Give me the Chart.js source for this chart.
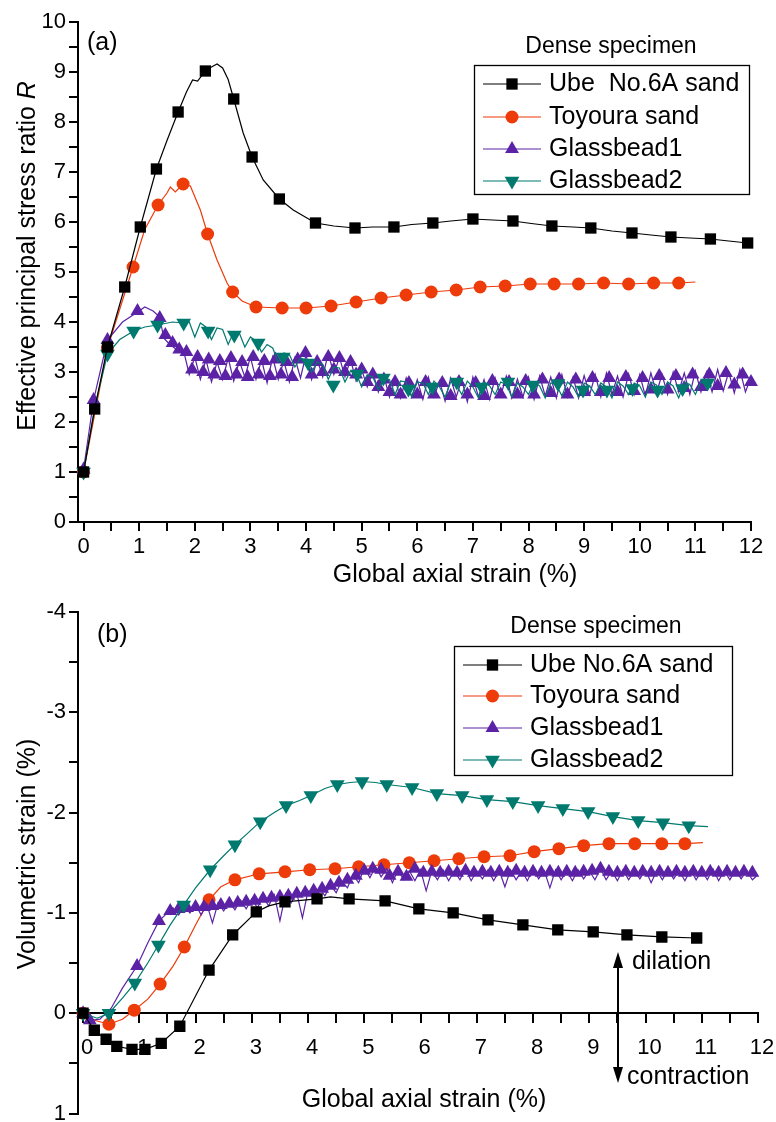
<!DOCTYPE html>
<html>
<head>
<meta charset="utf-8">
<script src="https://cdn.jsdelivr.net/npm/chart.js@4.4.1/dist/chart.umd.min.js"></script>
<style>
  html, body { margin: 0; padding: 0; background: #fff; }
  #wrap { position: relative; width: 776px; height: 1122px; }
  canvas { position: absolute; left: 0; }
  #chart-a { top: 0; width: 776px; height: 590px; }
  #chart-b { top: 590px; width: 776px; height: 532px; }
</style>
</head>
<body>
<div id="wrap">
  <canvas id="chart-a" width="776" height="590"></canvas>
  <canvas id="chart-b" width="776" height="532"></canvas>
</div>
<script>
// ---- data: [strain %, value] ----
const strainTicks = [0, 1, 2, 3, 4, 5, 6, 7, 8, 9, 10, 11, 12];
const ratioTicks = [0, 1, 2, 3, 4, 5, 6, 7, 8, 9, 10];
const volTicks = [-4, -3, -2, -1, 0, 1];

const namesA = ["Ube  No.6A sand", "Toyoura sand", "Glassbead1", "Glassbead2"];
const namesB = ["Ube No.6A sand", "Toyoura sand", "Glassbead1", "Glassbead2"];

// (a) effective principal stress ratio R
const ubeRatioLine = [[0,1.0],[0.2,2.26],[0.43,3.5],[0.74,4.7],[1.02,5.9],[1.31,7.06],[1.5,7.63],[1.7,8.2],[1.85,8.6],[1.96,8.84],[2.05,8.82],[2.19,9.02],[2.3,9.1],[2.4,9.16],[2.5,9.08],[2.6,8.85],[2.7,8.46],[2.87,7.78],[3.03,7.3],[3.23,6.84],[3.52,6.46],[3.77,6.24],[4.17,5.98],[4.5,5.92],[4.88,5.88],[5.2,5.9],[5.58,5.9],[5.9,5.95],[6.28,5.98],[6.6,6.02],[7.0,6.06],[7.35,6.04],[7.72,6.02],[8.05,5.97],[8.42,5.92],[8.8,5.9],[9.12,5.88],[9.5,5.82],[9.86,5.78],[10.2,5.74],[10.56,5.7],[10.9,5.68],[11.27,5.66],[11.6,5.62],[11.94,5.58]];
const ubeRatioMarks = [[0,1.0],[0.2,2.26],[0.43,3.5],[0.74,4.7],[1.02,5.9],[1.31,7.06],[1.7,8.2],[2.19,9.02],[2.7,8.46],[3.03,7.3],[3.52,6.46],[4.17,5.98],[4.88,5.88],[5.58,5.9],[6.28,5.98],[7.0,6.06],[7.72,6.02],[8.42,5.92],[9.12,5.88],[9.86,5.78],[10.56,5.7],[11.27,5.66],[11.94,5.58]];

const toyouraRatioLine = [[0,1.0],[0.43,3.48],[0.89,5.1],[1.1,5.85],[1.34,6.34],[1.5,6.58],[1.56,6.7],[1.65,6.6],[1.79,6.76],[1.92,6.72],[2.1,6.24],[2.23,5.76],[2.4,5.24],[2.58,4.78],[2.68,4.6],[2.85,4.42],[3.1,4.3],[3.57,4.28],[4.0,4.28],[4.45,4.32],[4.9,4.4],[5.35,4.48],[5.8,4.54],[6.25,4.6],[6.7,4.64],[7.13,4.7],[7.58,4.72],[8.03,4.76],[8.46,4.76],[8.9,4.76],[9.35,4.78],[9.8,4.76],[10.25,4.78],[10.7,4.78],[11.0,4.8]];
const toyouraRatioMarks = [[0,1.0],[0.43,3.48],[0.89,5.1],[1.34,6.34],[1.79,6.76],[2.23,5.76],[2.68,4.6],[3.1,4.3],[3.57,4.28],[4.0,4.28],[4.45,4.32],[4.9,4.4],[5.35,4.48],[5.8,4.54],[6.25,4.6],[6.7,4.64],[7.13,4.7],[7.58,4.72],[8.03,4.76],[8.46,4.76],[8.9,4.76],[9.35,4.78],[9.8,4.76],[10.25,4.78],[10.7,4.78]];

const gb1RatioLine = [[0,1.05],[0.18,2.44],[0.43,3.64],[0.7,4.0],[1.0,4.22],[1.1,4.3],[1.25,4.22],[1.37,4.1],[1.44,3.68],[1.56,3.54],[1.74,3.4],
  [1.8,3.42],[1.9,2.95],[2.0,3.3],[2.1,2.85],[2.2,3.25],[2.3,2.8],[2.4,3.2],[2.5,2.85],[2.6,3.28],[2.7,2.82],[2.8,3.22],[2.9,2.9],[3.0,3.3],[3.1,2.85],[3.2,3.25],[3.3,2.78],[3.4,3.3],[3.5,2.85],[3.6,3.22],[3.7,2.8],[3.8,3.28],[3.9,2.88],[4.0,3.35],[4.1,2.85],[4.2,3.25],[4.3,2.9],[4.4,3.38],[4.5,2.95],[4.6,3.3],[4.7,2.9],[4.8,3.25],[4.9,2.82],
  [5.0,3.05],[5.1,2.7],[5.2,3.0],[5.3,2.6],[5.4,2.92],[5.5,2.5],[5.6,2.85],[5.7,2.48],[5.8,2.88],[5.9,2.5],[6.0,2.85],[6.1,2.45],[6.2,2.9],[6.3,2.5],[6.4,2.82],[6.5,2.42],[6.6,2.88],[6.7,2.5],[6.8,2.85],[6.9,2.4],[7.0,2.9],[7.1,2.5],[7.2,2.85],[7.3,2.45],[7.4,2.88],[7.5,2.52],[7.6,2.92],[7.7,2.48],[7.8,2.86],[7.9,2.5],
  [8.0,2.9],[8.1,2.45],[8.2,2.92],[8.3,2.52],[8.4,2.9],[8.5,2.48],[8.6,2.95],[8.7,2.5],[8.8,2.9],[8.9,2.48],[9.0,2.93],[9.1,2.55],[9.2,2.95],[9.3,2.5],[9.4,2.98],[9.5,2.55],[9.6,2.92],[9.7,2.5],[9.8,2.96],[9.9,2.55],[10.0,2.95],[10.1,2.52],[10.2,2.98],[10.3,2.58],[10.4,2.95],[10.5,2.55],[10.6,3.0],[10.7,2.6],[10.8,2.98],[10.9,2.55],
  [11.0,3.02],[11.1,2.6],[11.2,3.0],[11.3,2.6],[11.4,3.05],[11.5,2.62],[11.6,3.0],[11.7,2.58],[11.8,3.05],[11.9,2.6],[12.0,2.9]];
const gb1RatioMarks = [[0,1.05],[0.18,2.44],[0.43,3.64],[0.97,4.22],[1.37,4.08],[1.47,3.74],[1.6,3.58],[1.72,3.45],[1.85,3.4],[1.95,3.05],[2.05,3.3],[2.15,3.0],[2.25,3.25],[2.35,2.95],[2.45,3.22],[2.55,2.92],[2.65,3.28],[2.75,2.95],[2.85,3.2],[2.95,2.9],[3.05,3.3],[3.15,2.95],[3.25,3.22],[3.35,2.92],[3.45,3.25],[3.55,2.95],[3.65,3.2],[3.75,2.9],[3.85,3.25],[3.99,3.38],[4.1,2.95],[4.2,3.2],[4.3,3.0],[4.4,3.3],[4.5,3.05],[4.6,3.28],[4.7,3.0],[4.8,3.2],[4.9,2.95],
  [5.0,3.05],[5.1,2.8],[5.2,2.95],[5.3,2.7],[5.4,2.85],[5.5,2.6],[5.6,2.8],[5.7,2.55],[5.85,2.78],[6.0,2.55],[6.15,2.8],[6.3,2.55],[6.45,2.78],[6.6,2.52],[6.75,2.8],[6.9,2.55],[7.05,2.78],[7.2,2.52],[7.35,2.82],[7.5,2.55],[7.65,2.8],[7.8,2.55],[7.95,2.82],[8.1,2.55],[8.25,2.85],[8.4,2.58],[8.55,2.85],[8.7,2.55],[8.85,2.85],[9.0,2.6],[9.15,2.88],[9.3,2.6],[9.45,2.88],[9.6,2.6],[9.75,2.9],[9.9,2.62],[10.05,2.88],[10.2,2.65],[10.35,2.92],[10.5,2.65],[10.65,2.92],[10.8,2.68],[10.95,2.95],[11.1,2.7],[11.25,2.95],[11.4,2.72],[11.55,2.98],[11.7,2.75],[11.85,2.95],[12.0,2.8]];

const gb2RatioLine = [[0,1.0],[0.2,2.3],[0.43,3.36],[0.65,3.65],[0.9,3.82],[1.1,3.9],[1.33,3.94],[1.6,4.0],[1.8,3.98],
  [1.9,4.0],[2.0,3.7],[2.1,3.98],[2.2,3.9],[2.3,3.65],[2.4,3.88],[2.5,3.85],[2.6,3.55],[2.7,3.8],[2.8,3.78],[2.9,3.5],[3.0,3.7],[3.1,3.62],[3.2,3.4],[3.3,3.55],[3.4,3.48],[3.5,3.2],[3.6,3.38],[3.7,3.35],[3.8,3.1],[3.9,3.28],[4.0,3.24],[4.1,3.0],[4.2,3.2],[4.3,3.15],[4.4,2.85],[4.5,3.1],[4.6,3.08],[4.7,2.8],[4.8,3.02],[4.9,2.98],
  [5.0,2.7],[5.1,2.94],[5.2,2.9],[5.3,2.65],[5.4,2.88],[5.5,2.85],[5.6,2.55],[5.7,2.82],[5.8,2.8],[5.9,2.5],[6.0,2.8],[6.1,2.78],[6.2,2.55],[6.3,2.82],[6.4,2.7],[6.5,2.5],[6.6,2.8],[6.7,2.75],[6.8,2.55],[6.9,2.82],[7.0,2.7],[7.1,2.48],[7.2,2.8],[7.3,2.72],[7.4,2.55],[7.5,2.8],[7.6,2.75],[7.7,2.5],[7.8,2.78],[7.9,2.7],
  [8.0,2.55],[8.1,2.8],[8.2,2.72],[8.3,2.48],[8.4,2.78],[8.5,2.75],[8.6,2.52],[8.7,2.8],[8.8,2.7],[8.9,2.5],[9.0,2.78],[9.1,2.72],[9.2,2.55],[9.3,2.78],[9.4,2.7],[9.5,2.48],[9.6,2.8],[9.7,2.72],[9.8,2.55],[9.9,2.78],[10.0,2.72],[10.1,2.5],[10.2,2.8],[10.3,2.74],[10.4,2.55],[10.5,2.8],[10.6,2.72],[10.7,2.48],[10.8,2.8],[10.9,2.75],[11.0,2.55],[11.1,2.8],[11.2,2.74],[11.3,2.72]];
const gb2RatioMarks = [[0,1.0],[0.43,3.36],[0.9,3.82],[1.33,3.94],[1.8,3.98],[2.24,3.82],[2.71,3.74],[3.14,3.58],[3.59,3.3],[4.04,3.18],[4.49,2.74],[4.92,2.96],[5.39,2.88],[5.84,2.66],[6.27,2.7],[6.71,2.8],[7.16,2.7],[7.63,2.8],[8.08,2.74],[8.53,2.77],[8.98,2.64],[9.41,2.64],[9.87,2.67],[10.32,2.64],[10.77,2.67],[11.22,2.78]];

// (b) volumetric strain %
const ubeVolLine = [[0,0],[0.2,0.17],[0.41,0.26],[0.6,0.33],[0.87,0.36],[1.1,0.36],[1.39,0.3],[1.72,0.13],[2.24,-0.43],[2.66,-0.78],[3.08,-1.01],[3.3,-1.07],[3.59,-1.11],[4.16,-1.14],[4.4,-1.16],[4.73,-1.14],[5.37,-1.12],[5.97,-1.04],[6.58,-1.0],[7.2,-0.93],[7.82,-0.88],[8.44,-0.83],[9.07,-0.81],[9.67,-0.78],[10.29,-0.76],[10.91,-0.75]];
const ubeVolMarks = [[0,0],[0.2,0.17],[0.41,0.26],[0.6,0.33],[0.87,0.36],[1.1,0.36],[1.39,0.3],[1.72,0.13],[2.24,-0.43],[2.66,-0.78],[3.08,-1.01],[3.59,-1.11],[4.16,-1.14],[4.73,-1.14],[5.37,-1.12],[5.97,-1.04],[6.58,-1.0],[7.2,-0.93],[7.82,-0.88],[8.44,-0.83],[9.07,-0.81],[9.67,-0.78],[10.29,-0.76],[10.91,-0.75]];

const toyouraVolLine = [[0,0],[0.2,0.07],[0.46,0.11],[0.7,0.06],[0.91,-0.03],[1.15,-0.14],[1.37,-0.29],[1.6,-0.47],[1.8,-0.66],[2.0,-0.88],[2.24,-1.13],[2.45,-1.26],[2.7,-1.33],[3.13,-1.39],[3.59,-1.41],[4.03,-1.43],[4.48,-1.44],[4.9,-1.46],[5.35,-1.48],[5.8,-1.5],[6.24,-1.52],[6.68,-1.54],[7.13,-1.56],[7.59,-1.57],[8.02,-1.61],[8.46,-1.64],[8.9,-1.67],[9.35,-1.69],[9.81,-1.69],[10.29,-1.69],[10.7,-1.69],[11.02,-1.7]];
const toyouraVolMarks = [[0,0],[0.46,0.11],[0.91,-0.03],[1.37,-0.29],[1.8,-0.66],[2.24,-1.13],[2.7,-1.33],[3.13,-1.39],[3.59,-1.41],[4.03,-1.43],[4.48,-1.44],[4.9,-1.46],[5.35,-1.48],[5.8,-1.5],[6.24,-1.52],[6.68,-1.54],[7.13,-1.56],[7.59,-1.57],[8.02,-1.61],[8.46,-1.64],[8.9,-1.67],[9.35,-1.69],[9.81,-1.69],[10.29,-1.69],[10.7,-1.69]];

const gb1VolLine = [[0,0],[0.15,0.07],[0.3,0.06],[0.5,-0.05],[0.7,-0.25],[0.96,-0.47],[1.15,-0.7],[1.35,-0.92],[1.5,-1.0],
  [1.6,-1.05],[1.7,-0.98],[1.8,-1.07],[1.9,-1.0],[2.0,-1.08],[2.1,-0.98],[2.2,-1.09],[2.3,-0.9],[2.4,-1.1],[2.5,-1.02],[2.6,-1.11],[2.7,-1.03],[2.8,-1.13],[2.9,-1.04],[3.0,-1.14],[3.1,-1.05],[3.2,-1.16],[3.3,-1.07],[3.4,-1.18],[3.5,-0.92],[3.6,-1.19],[3.7,-1.1],[3.8,-1.2],[3.9,-0.95],[4.0,-1.22],[4.1,-1.14],[4.2,-1.25],[4.3,-1.17],[4.4,-1.28],[4.5,-1.2],[4.6,-1.32],[4.7,-1.25],[4.8,-1.38],[4.9,-1.3],
  [5.0,-1.45],[5.1,-1.35],[5.2,-1.46],[5.3,-1.36],[5.4,-1.44],[5.5,-1.3],[5.6,-1.43],[5.7,-1.33],[5.8,-1.42],[5.9,-1.32],[6.0,-1.43],[6.1,-1.22],[6.2,-1.42],[6.3,-1.33],[6.4,-1.43],[6.5,-1.32],[6.6,-1.42],[6.7,-1.33],[6.8,-1.44],[6.9,-1.32],[7.0,-1.42],[7.1,-1.34],[7.2,-1.43],[7.3,-1.32],[7.4,-1.42],[7.5,-1.26],[7.6,-1.43],[7.7,-1.33],[7.8,-1.42],[7.9,-1.32],
  [8.0,-1.44],[8.1,-1.34],[8.2,-1.42],[8.3,-1.25],[8.4,-1.43],[8.5,-1.33],[8.6,-1.42],[8.7,-1.32],[8.8,-1.43],[8.9,-1.34],[9.0,-1.42],[9.1,-1.33],[9.2,-1.44],[9.3,-1.33],[9.4,-1.42],[9.5,-1.32],[9.6,-1.43],[9.7,-1.33],[9.8,-1.42],[9.9,-1.34],[10.0,-1.43],[10.1,-1.3],[10.2,-1.42],[10.3,-1.33],[10.4,-1.43],[10.5,-1.34],[10.6,-1.42],[10.7,-1.32],[10.8,-1.43],[10.9,-1.33],
  [11.0,-1.42],[11.1,-1.33],[11.2,-1.44],[11.3,-1.32],[11.4,-1.42],[11.5,-1.33],[11.6,-1.43],[11.7,-1.34],[11.8,-1.42],[11.9,-1.33],[12.0,-1.38]];
const gb1VolMarks = [[0,0],[0.12,0.07],[0.96,-0.47],[1.35,-0.92],[1.55,-1.02],[1.7,-1.04],[1.85,-1.05],[2.0,-1.06],[2.15,-1.06],[2.3,-1.07],[2.45,-1.08],[2.6,-1.09],[2.75,-1.1],[2.9,-1.11],[3.05,-1.12],[3.2,-1.14],[3.35,-1.15],[3.5,-1.16],[3.65,-1.17],[3.8,-1.19],[3.95,-1.2],[4.1,-1.22],[4.25,-1.24],[4.4,-1.27],[4.55,-1.3],[4.7,-1.33],[4.85,-1.37],[5.0,-1.42],[5.15,-1.44],[5.3,-1.43],[5.45,-1.37],[5.6,-1.41],[5.75,-1.36],[5.9,-1.44],[6.05,-1.4],[6.2,-1.41],[6.35,-1.4],[6.5,-1.41],[6.65,-1.4],[6.8,-1.42],[6.95,-1.4],[7.1,-1.41],[7.25,-1.4],[7.4,-1.41],[7.55,-1.4],[7.7,-1.42],[7.85,-1.4],[8.0,-1.41],[8.15,-1.4],[8.3,-1.41],[8.45,-1.4],[8.6,-1.41],[8.75,-1.4],[8.9,-1.41],[9.05,-1.42],[9.2,-1.44],[9.35,-1.41],[9.5,-1.4],[9.65,-1.41],[9.8,-1.4],[9.95,-1.41],[10.1,-1.4],[10.25,-1.41],[10.4,-1.4],[10.55,-1.41],[10.7,-1.4],[10.85,-1.41],[11.0,-1.4],[11.15,-1.41],[11.3,-1.4],[11.45,-1.41],[11.6,-1.4],[11.75,-1.41],[11.9,-1.4]];

const gb2VolLine = [[0,0],[0.25,0.05],[0.46,0.0],[0.7,-0.15],[0.92,-0.3],[1.15,-0.5],[1.34,-0.68],[1.55,-0.88],[1.79,-1.08],[2.0,-1.25],[2.26,-1.43],[2.5,-1.57],[2.7,-1.68],[2.9,-1.78],[3.15,-1.91],[3.4,-2.0],[3.61,-2.07],[3.85,-2.12],[4.05,-2.17],[4.3,-2.24],[4.52,-2.28],[4.75,-2.3],[4.96,-2.31],[5.2,-2.3],[5.4,-2.28],[5.85,-2.25],[6.29,-2.19],[6.74,-2.17],[7.18,-2.13],[7.64,-2.11],[8.09,-2.07],[8.53,-2.04],[8.98,-2.01],[9.42,-1.96],[9.87,-1.92],[10.31,-1.9],[10.77,-1.87],[11.11,-1.86]];
const gb2VolMarks = [[0,0],[0.46,0.0],[0.92,-0.3],[1.34,-0.68],[1.79,-1.08],[2.26,-1.43],[2.7,-1.68],[3.15,-1.91],[3.61,-2.07],[4.05,-2.17],[4.52,-2.28],[4.96,-2.31],[5.4,-2.28],[5.85,-2.25],[6.29,-2.19],[6.74,-2.17],[7.18,-2.13],[7.64,-2.11],[8.09,-2.07],[8.53,-2.04],[8.98,-2.01],[9.42,-1.96],[9.87,-1.92],[10.31,-1.9],[10.77,-1.87]];

// ---- styling ----
const FONT = '"Liberation Sans", Arial, Helvetica, sans-serif';
Chart.defaults.font.family = FONT;
Chart.defaults.color = '#000';

const seriesStyles = [
  { color: '#000000', point: 'rect', rotation: 0, radius: 8 },
  { color: '#EE3B0A', point: 'circle', rotation: 0, radius: 6.5 },
  { color: '#5B22A6', point: 'triangle', rotation: 0, radius: 8 },
  { color: '#00796F', point: 'triangle', rotation: 180, radius: 8.5 }
];

function pts(pairs) {
  return pairs.map(p => ({ x: p[0], y: p[1] }));
}

function withMinors(majors) {
  const last = majors[majors.length - 1];
  return majors.flatMap(v => [v, v + 0.5]).filter(v => v <= last);
}

function buildDatasets(lines, marks, topFirst) {
  let sets = [];
  topFirst.forEach(i => {
    let s = seriesStyles[i];
    sets.push({
      data: pts(marks[i]), showLine: false, pointStyle: s.point, rotation: s.rotation,
      pointRadius: s.radius, pointBackgroundColor: s.color, pointBorderColor: s.color,
      pointBorderWidth: 0, clip: 10
    });
    sets.push({
      data: pts(lines[i]), showLine: true, pointRadius: 0, borderColor: s.color,
      borderWidth: 1.2, tension: 0, clip: 2
    });
  });
  return sets;
}

function scaleOpts(tickValues, extra, fitFn) {
  return Object.assign({
    type: 'linear',
    afterBuildTicks: axis => { axis.ticks = tickValues.map(v => ({ value: v })); },
    afterFit: fitFn,
    border: { color: '#000', width: 2 },
    grid: { drawOnChartArea: false, color: '#000', lineWidth: 2, tickLength: 9 },
    ticks: {
      autoSkip: false, maxRotation: 0, minRotation: 0, color: '#000',
      font: { size: 22 },
      callback: v => Number.isInteger(v) ? String(v) : ''
    }
  }, extra);
}

function drawMarker(ctx, s, x, y) {
  let r = s.radius;
  ctx.fillStyle = s.color;
  ctx.beginPath();
  if (s.point === 'rect') {
    let h = r * Math.SQRT1_2;
    ctx.rect(x - h, y - h, 2 * h, 2 * h);
  } else if (s.point === 'circle') {
    ctx.arc(x, y, r, 0, Math.PI * 2);
  } else {
    let d = s.rotation ? 1 : -1;
    ctx.moveTo(x, y + d * r);
    ctx.lineTo(x + r * 0.866, y - d * r * 0.5);
    ctx.lineTo(x - r * 0.866, y - d * r * 0.5);
    ctx.closePath();
  }
  ctx.fill();
}

const decorPlugin = {
  id: 'decor',
  afterDraw(chart, args, o) {
    let ctx = chart.ctx;
    ctx.save();
    ctx.fillStyle = '#000';
    ctx.textBaseline = 'middle';

    // plain texts
    (o.texts || []).forEach(t => {
      ctx.font = t.size + 'px ' + FONT;
      ctx.textAlign = t.align || 'left';
      ctx.fillStyle = '#000';
      ctx.fillText(t.text, t.x, t.y);
    });

    // rotated y title, may mix italic parts
    if (o.yTitle) {
      let yt = o.yTitle;
      ctx.translate(yt.x, yt.y);
      ctx.rotate(-Math.PI / 2);
      ctx.textAlign = 'left';
      let widths = yt.parts.map(p => {
        ctx.font = (p.italic ? 'italic ' : '') + yt.size + 'px ' + FONT;
        return ctx.measureText(p.text).width;
      });
      let total = widths.reduce((a, b) => a + b, 0);
      let cx = -total / 2;
      yt.parts.forEach((p, i) => {
        ctx.font = (p.italic ? 'italic ' : '') + yt.size + 'px ' + FONT;
        ctx.fillStyle = '#000';
        ctx.fillText(p.text, cx, 0);
        cx += widths[i];
      });
      ctx.setTransform(1, 0, 0, 1, 0, 0);
    }

    // double arrow
    if (o.arrow) {
      let a = o.arrow;
      ctx.strokeStyle = '#000';
      ctx.fillStyle = '#000';
      ctx.lineWidth = 2;
      ctx.beginPath();
      ctx.moveTo(a.x, a.top + 10);
      ctx.lineTo(a.x, a.bottom - 10);
      ctx.stroke();
      [[a.top, 1], [a.bottom, -1]].forEach(([tip, d]) => {
        ctx.beginPath();
        ctx.moveTo(a.x, tip);
        ctx.lineTo(a.x + 5, tip + d * 16);
        ctx.lineTo(a.x - 5, tip + d * 16);
        ctx.closePath();
        ctx.fill();
      });
    }

    // legend box
    if (o.legend) {
      let L = o.legend;
      ctx.strokeStyle = '#000';
      ctx.lineWidth = 1.3;
      ctx.strokeRect(L.x + 0.5, L.y + 0.5, L.w, L.h);
      L.names.forEach((name, i) => {
        let s = seriesStyles[i];
        let ry = L.rows[i];
        ctx.strokeStyle = s.color;
        ctx.lineWidth = 1.2;
        ctx.beginPath();
        ctx.moveTo(L.lineX0, ry);
        ctx.lineTo(L.lineX1, ry);
        ctx.stroke();
        drawMarker(ctx, s, (L.lineX0 + L.lineX1) / 2, ry);
        ctx.fillStyle = '#000';
        ctx.font = L.size + 'px ' + FONT;
        ctx.textAlign = 'left';
        ctx.fillText(name, L.textX, ry);
      });
    }
    ctx.restore();
  }
};

function baseOptions(padding, decor, scales) {
  return {
    responsive: false,
    animation: false,
    events: [],
    layout: { padding: padding },
    plugins: { legend: { display: false }, tooltip: { enabled: false }, decor: decor },
    scales: scales
  };
}

// ---- chart (a) ----
new Chart(document.getElementById('chart-a'), {
  type: 'scatter',
  data: {
    datasets: buildDatasets(
      [ubeRatioLine, toyouraRatioLine, gb1RatioLine, gb2RatioLine],
      [ubeRatioMarks, toyouraRatioMarks, gb1RatioMarks, gb2RatioMarks],
      [0, 3, 2, 1])
  },
  options: baseOptions(
    { left: 0, top: 22, right: 25, bottom: 0 },
    {
      texts: [
        { text: '(a)', x: 87, y: 43, size: 25 },
        { text: 'Dense specimen', x: 611, y: 47, size: 23, align: 'center' },
        { text: 'Global axial strain (%)', x: 455, y: 575, size: 25, align: 'center' }
      ],
      yTitle: { x: 28, y: 256, size: 25, parts: [{ text: 'Effective principal stress ratio ' }, { text: 'R', italic: true }] },
      legend: { names: namesA, x: 474, y: 65, w: 275, h: 129, rows: [84, 117, 149, 181], lineX0: 483, lineX1: 541, textX: 549, size: 25 }
    },
    {
      x: scaleOpts(withMinors(strainTicks), { min: -0.1, max: 12, position: 'bottom' },
        s => { s.height = 68; s.paddingLeft = 0; s.paddingRight = 0; }),
      y: scaleOpts(withMinors(ratioTicks), { min: 0, max: 10, position: 'left' },
        s => { s.width = 78; s.paddingTop = 0; s.paddingBottom = 0; })
    }),
  plugins: [decorPlugin]
});

// ---- chart (b) ----
let xB = scaleOpts(withMinors(strainTicks), { min: -0.09, max: 12, position: { y: 0 } },
  s => { s.paddingLeft = 0; s.paddingRight = 0; });
xB.ticks.padding = 13;
xB.ticks.labelOffset = 4;

new Chart(document.getElementById('chart-b'), {
  type: 'scatter',
  data: {
    datasets: buildDatasets(
      [ubeVolLine, toyouraVolLine, gb1VolLine, gb2VolLine],
      [ubeVolMarks, toyouraVolMarks, gb1VolMarks, gb2VolMarks],
      [0, 3, 2, 1])
  },
  options: baseOptions(
    { left: 0, top: 22, right: 18, bottom: 6 },
    {
      texts: [
        { text: '(b)', x: 97, y: 45, size: 25 },
        { text: 'Dense specimen', x: 596, y: 37, size: 23, align: 'center' },
        { text: 'Global axial strain (%)', x: 424, y: 510, size: 25, align: 'center' },
        { text: 'dilation', x: 632, y: 372, size: 25 },
        { text: 'contraction', x: 627, y: 487, size: 25 }
      ],
      yTitle: { x: 28, y: 264, size: 25, parts: [{ text: 'Volumetric strain (%)' }] },
      arrow: { x: 618, top: 362, bottom: 493 },
      legend: { names: namesB, x: 454, y: 56, w: 278, h: 129, rows: [75, 106, 138, 170], lineX0: 463, lineX1: 522, textX: 530, size: 25 }
    },
    {
      x: xB,
      y: scaleOpts(withMinors(volTicks), { min: -4, max: 1, reverse: true, position: 'left' },
        s => { s.width = 78; s.paddingTop = 0; s.paddingBottom = 0; })
    }),
  plugins: [decorPlugin]
});
</script>
</body>
</html>
